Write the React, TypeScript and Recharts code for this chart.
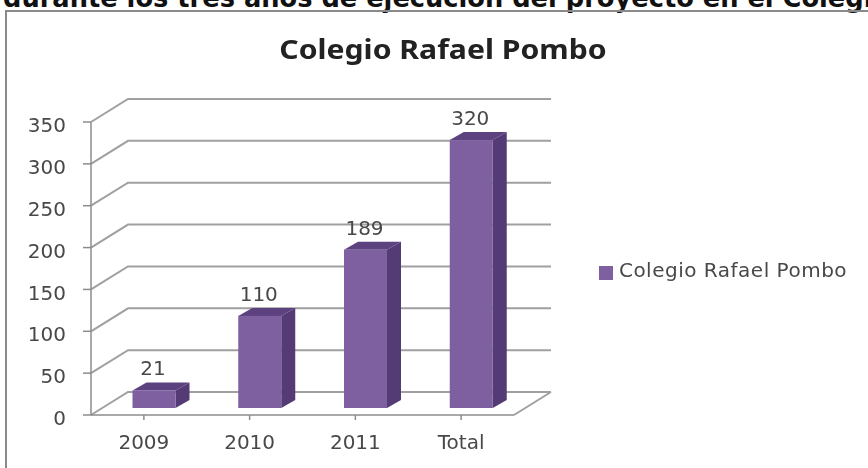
import React from 'react';
import { BarChart, Bar, CartesianGrid, LabelList, Legend, XAxis, YAxis } from 'recharts';

const categories = ['2009', '2010', '2011', 'Total'];
const values = [21, 110, 189, 320];
const yTicks = [0, 50, 100, 150, 200, 250, 300, 350];
const seriesName = 'Colegio Rafael Pombo';
const heading = 'durante los tres años de ejecución del proyecto en el Colegio';

const chartData = categories.map((c, i) => ({ name: c, value: values[i] }));

// fake 3D: the walls sit up and to the right of the front plane
const DEPTH_X = 37;
const DEPTH_Y = 23;
// bars stand a bit inside the floor
const BAR_DX = 10.5;
const BAR_DY = -7;
const SIDE_X = 14;
const SIDE_Y = 8;

const GRID = '#a0a0a0';
const AXIS = '#8c8c8c';
const TEXT = '#484848';

const gridLine = (props: any) => {
  const { x1, x2, y1, key } = props;
  const isFloor = Math.abs(y1 - 415) < 1;
  return (
    <g key={key}>
      <polyline
        points={`${x1},${y1} ${x1 + DEPTH_X},${y1 - DEPTH_Y} ${x2 + DEPTH_X},${y1 - DEPTH_Y}`}
        fill="none"
        stroke={GRID}
        strokeWidth={2}
      />
      {isFloor && <line x1={x2} y1={y1} x2={x2 + DEPTH_X} y2={y1 - DEPTH_Y} stroke={GRID} strokeWidth={2} />}
    </g>
  );
};

const Bar3D = (props: any) => {
  const { x, y, width, height } = props;
  const l = x + BAR_DX;
  const t = y + BAR_DY;
  const r = l + width;
  const b = t + height;
  return (
    <g>
      <polygon points={`${l},${t} ${l + SIDE_X},${t - SIDE_Y} ${r + SIDE_X},${t - SIDE_Y} ${r},${t}`} fill="#5d4280" />
      <polygon points={`${r},${t} ${r + SIDE_X},${t - SIDE_Y} ${r + SIDE_X},${b - SIDE_Y} ${r},${b}`} fill="#553b75" />
      <rect x={l} y={t} width={width} height={height} fill="#7e60a1" />
    </g>
  );
};

const valueLabel = (props: any) => {
  const { x, y, width, value } = props;
  return (
    <text x={x + width / 2 + BAR_DX - 1} y={y - 22} textAnchor="middle" fill={TEXT} fontSize={20} fontFamily="DejaVu Sans">
      {value}
    </text>
  );
};

export default function App() {
  return (
    <div style={{ position: 'absolute', left: 0, top: 0, width: 868, height: 468, overflow: 'hidden', background: '#fff' }}>
      <div
        style={{
          position: 'absolute',
          left: 3,
          top: -17.5,
          whiteSpace: 'nowrap',
          fontFamily: 'DejaVu Sans',
          fontWeight: 700,
          fontSize: 25.7,
          color: '#111',
        }}
      >
        {heading}
      </div>
      <div
        style={{
          position: 'absolute',
          left: 5,
          top: 10,
          width: 880,
          height: 470,
          borderLeft: '2px solid #8a8a8a',
          borderTop: '2px solid #8a8a8a',
        }}
      />
      <div style={{ position: 'absolute', left: 0, top: 0, filter: 'blur(0.5px)' }}>
        <div
          style={{
            position: 'absolute',
            left: 0,
            width: 886,
            textAlign: 'center',
            top: 31,
            fontFamily: 'Noto Sans',
            fontWeight: 700,
            fontSize: 26,
            color: '#222',
            transform: 'scaleX(1.16)',
          }}
        >
          {seriesName}
        </div>
        <BarChart
          width={868}
          height={468}
          data={chartData}
          margin={{ left: 21, top: 122, right: 354, bottom: 18 }}
          style={{ fontFamily: 'DejaVu Sans' }}
        >
          <CartesianGrid vertical={false} horizontal={gridLine} />
          <XAxis
            dataKey="name"
            height={35}
            stroke={AXIS}
            strokeWidth={1.5}
            tickSize={5}
            tick={{ fill: TEXT, fontSize: 20 }}
            tickMargin={15}
          />
          <YAxis
            width={70}
            domain={[0, 350]}
            ticks={yTicks}
            stroke={AXIS}
            strokeWidth={1.5}
            tickSize={8}
            tick={{ fill: TEXT, fontSize: 20, dy: 3 }}
            tickMargin={17}
          />
          <Legend
            layout="horizontal"
            align="center"
            verticalAlign="middle"
            iconType="square"
            iconSize={14}
            wrapperStyle={{ left: 598, top: 258, width: 260 }}
            formatter={(v: string) => (
              <span style={{ color: TEXT, fontSize: 20, letterSpacing: 0.5, marginLeft: 2 }}>{v}</span>
            )}
          />
          <Bar dataKey="value" name={seriesName} fill="#7e60a1" barSize={43} shape={Bar3D} isAnimationActive={false}>
            <LabelList dataKey="value" content={valueLabel} />
          </Bar>
        </BarChart>
      </div>
    </div>
  );
}
